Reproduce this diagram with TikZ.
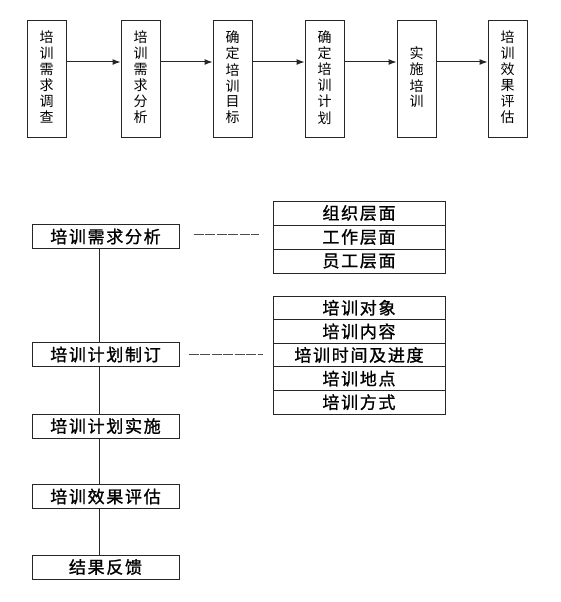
\documentclass[tikz,border=0pt]{standalone}
\usepackage{fontspec}
\newfontfamily\cjk{Noto Sans CJK SC}
\newfontfamily\cjksp[LetterSpace=10,FakeBold=1.2]{Noto Sans CJK SC}
\usetikzlibrary{arrows.meta}
\newcommand{\vtext}[1]{\raisebox{10pt}{\begin{tabular}{@{}c@{}}#1\end{tabular}}}
\begin{document}
\begin{tikzpicture}[x=1pt,y=-1pt,
  ln/.style={draw=black!85,line width=1pt},
  vbox/.style={ln,minimum width=39pt,minimum height=116pt,inner sep=0pt,font=\cjk\fontsize{14}{15}\selectfont},
  hbox/.style={ln,minimum width=147pt,minimum height=24pt,inner sep=0pt,font=\cjksp\fontsize{17}{18}\selectfont},
  rowa/.style={ln,minimum width=172pt,minimum height=24pt,inner sep=0pt,font=\cjksp\fontsize{17}{18}\selectfont},
  rowb/.style={ln,minimum width=172pt,minimum height=23.6pt,inner sep=0pt,font=\cjksp\fontsize{17}{18}\selectfont},
  arr/.style={ln,-{Latex[length=8pt,width=6pt]}},
  dsh/.style={draw=black!70,line width=0.9pt,dash pattern=on 10pt off 1.5pt}]
\useasboundingbox (0,0) rectangle (560,602);
% top row
\node[vbox] (v1) at (46.5,79) {\vtext{培\\训\\需\\求\\调\\查}};
\node[vbox] (v2) at (140.5,79) {\vtext{培\\训\\需\\求\\分\\析}};
\node[vbox] (v3) at (232.5,79) {\vtext{确\\定\\培\\训\\目\\标}};
\node[vbox] (v4) at (324.5,79) {\vtext{确\\定\\培\\训\\计\\划}};
\node[vbox] (v5) at (416.5,79) {\vtext{实\\施\\培\\训}};
\node[vbox] (v6) at (507.5,79) {\vtext{培\\训\\效\\果\\评\\估}};
\foreach \a/\b in {v1/v2,v2/v3,v3/v4,v4/v5,v5/v6}
  \draw[arr] (\a.east |- 0,62) -- (\b.west |- 0,62);
% left column
\node[hbox] (m1) at (105.5,236.5) {培训需求分析};
\node[hbox] (m2) at (105.5,354.5) {培训计划制订};
\node[hbox] (m3) at (105.5,426) {培训计划实施};
\node[hbox] (m4) at (105.5,496.5) {培训效果评估};
\node[hbox] (m5) at (105.5,567) {结果反馈};
\foreach \a/\b in {m1/m2,m2/m3,m3/m4,m4/m5}
  \draw[ln] (\a.south -| 99,0) -- (\b.north -| 99,0);
% right groups
\node[rowa] (g1a) at (359,213) {组织层面};
\node[rowa] (g1b) at (359,237) {工作层面};
\node[rowa] (g1c) at (359,261) {员工层面};
\node[rowb] (g2a) at (359,307.8) {培训对象};
\node[rowb] (g2b) at (359,331.4) {培训内容};
\node[rowb] (g2c) at (359,355) {培训时间及进度};
\node[rowb] (g2d) at (359,378.6) {培训地点};
\node[rowb] (g2e) at (359,402.2) {培训方式};
\draw[dsh] ([xshift=14pt]m1.east |- 0,234) -- ([xshift=-14pt]g1b.west |- 0,234);
\draw[dsh] ([xshift=9pt]m2.east |- 0,354) -- ([xshift=-10pt]g2c.west |- 0,354);
\end{tikzpicture}
\end{document}
